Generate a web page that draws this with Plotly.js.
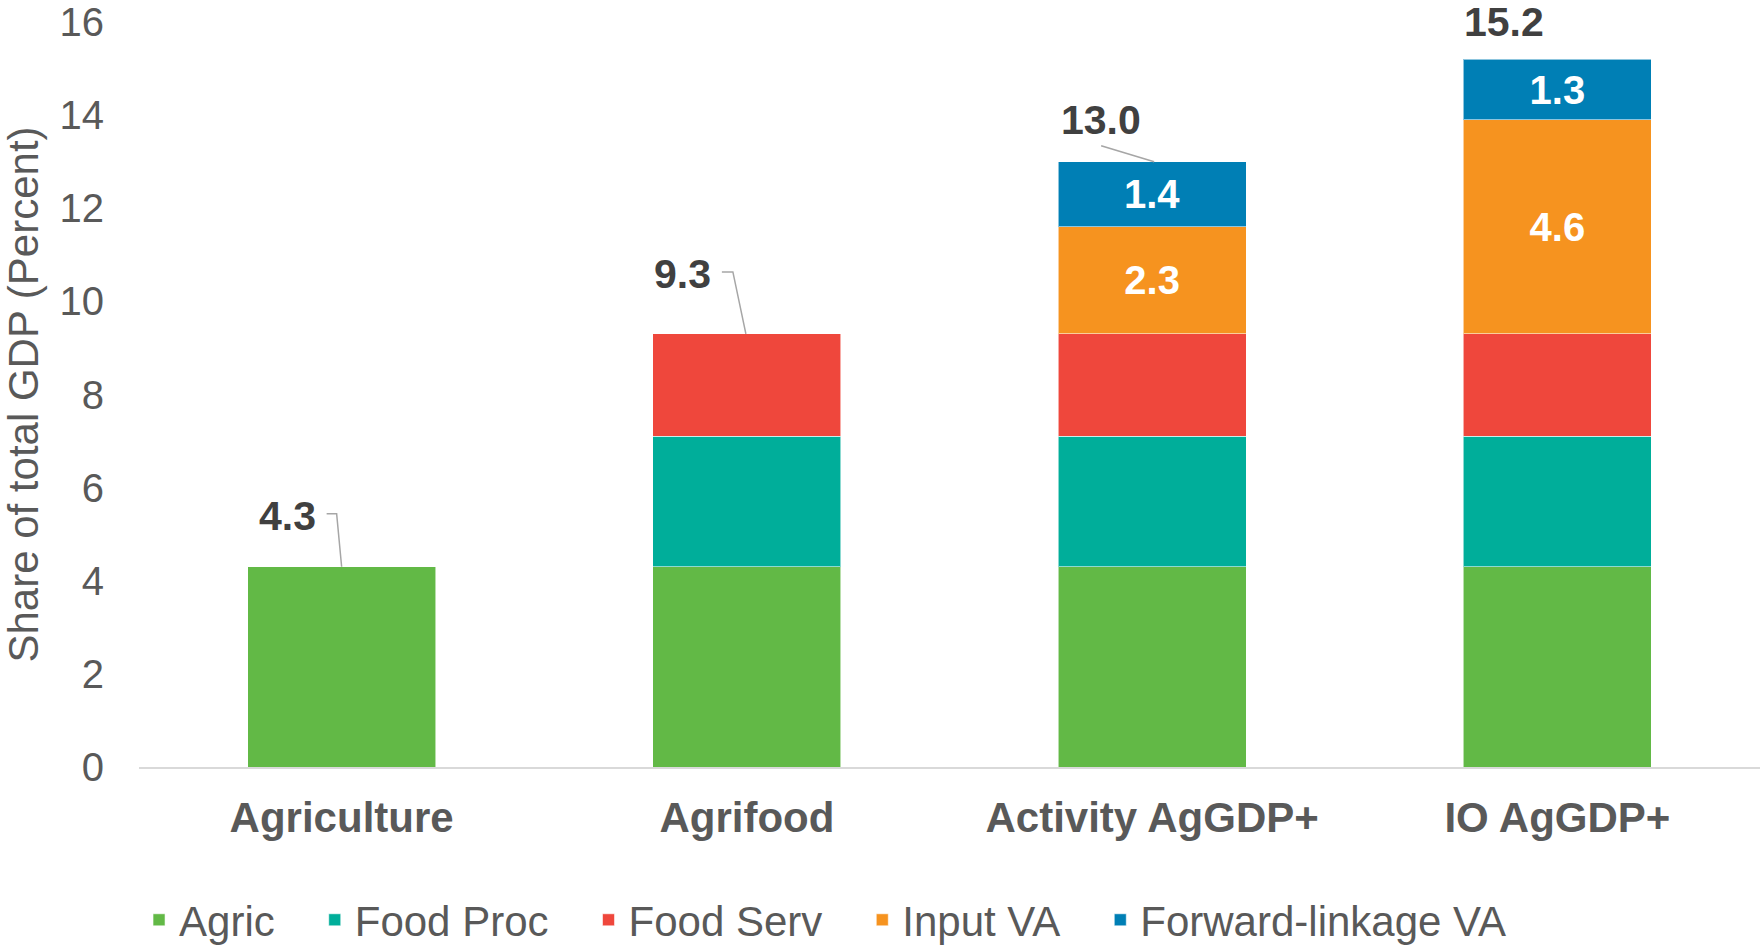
<!DOCTYPE html>
<html>
<head>
<meta charset="utf-8">
<script src="https://cdn.plot.ly/plotly-3.0.1.min.js"></script>
<style>html,body{margin:0;padding:0;background:#fff;}#chart{width:1760px;height:946px;}</style>
</head>
<body>
<div id="chart"></div>
<script>
const categories = ["Agriculture", "Agrifood", "Activity AgGDP+", "IO AgGDP+"];
const seriesNames = ["Agric", "Food Proc", "Food Serv", "Input VA", "Forward-linkage VA"];
const agric = [4.3, 4.3, 4.3, 4.3];
const foodProc = [null, 2.8, 2.8, 2.8];
const foodServ = [null, 2.2, 2.2, 2.2];
const inputVA = [null, null, 2.3, 4.6];
const forwardVA = [null, null, 1.4, 1.3];
const totals = [4.3, 9.3, 13.0, 15.2];
const yTicks = [0, 2, 4, 6, 8, 10, 12, 14, 16];

const colors = ["#62B946", "#00AE9A", "#EF473C", "#F6931F", "#007FB5"];
const seriesValues = [agric, foodProc, foodServ, inputVA, forwardVA];
const showInside = [false, false, false, true, true];

const FONT = "Liberation Sans, Arial, sans-serif";
const GRAY = "#595959";
const PAD = "\u00a0\u00a0\u00a0";

const traces = seriesValues.map((vals, i) => ({
  type: "bar",
  name: seriesNames[i] + (i < seriesNames.length - 1 ? PAD : ""),
  x: categories,
  y: vals,
  marker: {color: colors[i], line: {color: "rgba(255,255,255,0.55)", width: 1}},
  text: showInside[i] ? vals.map(v => v == null ? "" : v.toFixed(1)) : null,
  textposition: showInside[i] ? "inside" : "none",
  insidetextanchor: "middle",
  textfont: {family: FONT, size: 40, color: "#ffffff", weight: "bold"},
  hoverinfo: "x+y"
}));

// Total labels: offsets of text from bar top (pixels) and leader paths
const labelOffsets = [[-54, 51], [-64, 60], [-51, 42], [-53, 37]];
const leaderPaths = ["M-15,53L-5,53L0,0", "M-25,62L-14,62L-1,0", "M-51,16L2,0", null];

const annotations = totals.map((t, i) => ({
  x: categories[i], y: t, xref: "x", yref: "y",
  text: t.toFixed(1), showarrow: false,
  xshift: labelOffsets[i][0], yshift: labelOffsets[i][1],
  font: {family: FONT, size: 41, color: "#404040", weight: "bold"}
}));

const shapes = [];
totals.forEach((t, i) => {
  if (!leaderPaths[i]) return;
  shapes.push({
    type: "path", xref: "x", yref: "y",
    xsizemode: "pixel", ysizemode: "pixel",
    xanchor: categories[i], yanchor: t,
    path: leaderPaths[i],
    line: {color: "#A6A6A6", width: 1.5}
  });
});

const layout = {
  width: 1760, height: 946,
  margin: {l: 139, r: 0, t: 22, b: 179},
  paper_bgcolor: "#ffffff", plot_bgcolor: "#ffffff",
  barmode: "stack",
  bargap: 0.536,
  font: {family: FONT, color: GRAY},
  showlegend: true,
  legend: {
    orientation: "h",
    xref: "container", yref: "container",
    x: 0.079, xanchor: "left", y: 0.0275, yanchor: "middle",
    font: {family: FONT, size: 42, color: GRAY},
    traceorder: "normal", itemclick: false
  },
  xaxis: {
    type: "category",
    showgrid: false, zeroline: false,
    showline: true, linecolor: "#D9D9D9", linewidth: 2,
    ticks: "", ticklabelstandoff: 13,
    tickfont: {family: FONT, size: 42, color: GRAY, weight: "bold"}
  },
  yaxis: {
    range: [0, 16], tickvals: yTicks, ticktext: yTicks.map(String),
    showgrid: false, zeroline: false, showline: false,
    ticks: "", ticklabelstandoff: 34,
    tickfont: {family: FONT, size: 40, color: GRAY},
    title: {text: "Share of total GDP (Percent)", standoff: 12,
            font: {family: FONT, size: 42, color: GRAY}}
  },
  annotations: annotations,
  shapes: shapes
};

Plotly.newPlot("chart", traces, layout, {displayModeBar: false, staticPlot: true});
</script>
</body>
</html>
